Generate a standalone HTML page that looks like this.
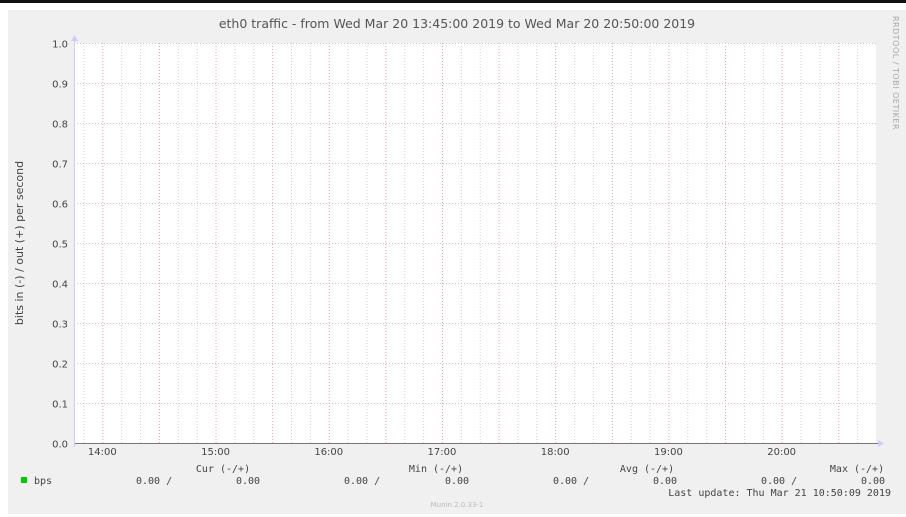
<!DOCTYPE html>
<html><head><meta charset="utf-8"><style>
body{margin:0;background:#fff;}
svg{display:block;font-family:"DejaVu Sans","Liberation Sans",sans-serif;}
.mono{font-family:"DejaVu Sans Mono","Liberation Mono",monospace;}
</style></head><body>
<svg id="chart" width="906" height="517" viewBox="0 0 906 517">
<rect x="0" y="0" width="906" height="3" fill="#111"/>
<rect x="8" y="10" width="898" height="504" fill="#f0f0f0"/>
<rect x="74" y="43" width="802" height="400" fill="#fff"/>
<text x="457" y="28" text-anchor="middle" font-size="12.5" fill="#555">eth0 traffic - from Wed Mar 20 13:45:00 2019 to Wed Mar 20 20:50:00 2019</text>
<text transform="translate(23,243) rotate(-90)" text-anchor="middle" font-size="11" fill="#444">bits in (-) / out (+) per second</text>
<text transform="translate(893,16) rotate(90)" font-size="8" fill="#aaa" letter-spacing="0.5">RRDTOOL / TOBI OETIKER</text>
<g id="grid"></g>
<g id="series"></g>
<g id="axes"></g>
<g class="mono" font-size="10" fill="#444">
<rect x="21" y="477" width="6" height="6" fill="#00cc00"/>
<text x="34" y="484">bps</text>
<text x="223" y="472" text-anchor="middle">Cur (-/+)</text>
<text x="436" y="472" text-anchor="middle">Min (-/+)</text>
<text x="647" y="472" text-anchor="middle">Avg (-/+)</text>
<text x="857" y="472" text-anchor="middle">Max (-/+)</text>
<text x="136" y="484">0.00 /</text>
<text x="236" y="484">0.00</text>
<text x="344" y="484">0.00 /</text>
<text x="445" y="484">0.00</text>
<text x="553" y="484">0.00 /</text>
<text x="653" y="484">0.00</text>
<text x="761" y="484">0.00 /</text>
<text x="861" y="484">0.00</text>
<text x="891" y="496" text-anchor="end">Last update: Thu Mar 21 10:50:09 2019</text>
</g>
<text x="457" y="507" text-anchor="middle" font-size="7" fill="#bbb">Munin 2.0.33-1</text>
</svg>
<script>
const yTicks=[0,0.1,0.2,0.3,0.4,0.5,0.6,0.7,0.8,0.9,1.0];
const yTickLabels=["0.0","0.1","0.2","0.3","0.4","0.5","0.6","0.7","0.8","0.9","1.0"];
const xTickMinutes=[840,900,960,1020,1080,1140,1200];
const xTickLabels=["14:00","15:00","16:00","17:00","18:00","19:00","20:00"];
const seriesTimes=[825,900,975,1050,1125,1200,1250];
const seriesBps=[0,0,0,0,0,0,0];

const X0=74,X1=876,Y0=443,Y1=43,T0=825,T1=1250,V0=0,V1=1;
const sx=t=>X0+(t-T0)/(T1-T0)*(X1-X0);
const sy=v=>Y0-(v-V0)/(V1-V0)*(Y0-Y1);
const NS="http://www.w3.org/2000/svg";
function mk(tag,attrs,parent){const e=document.createElementNS(NS,tag);for(const k in attrs)e.setAttribute(k,attrs[k]);parent.appendChild(e);return e;}
const grid=document.getElementById('grid'),axes=document.getElementById('axes'),ser=document.getElementById('series');

for(let m=830;m<T1;m+=10){
  const major=(m%30===0);
  const l=mk('line',{x1:sx(m)+.5,x2:sx(m)+.5,y1:Y1,y2:Y0,stroke:major?'#e8a0a0':'#d0d0d0','stroke-dasharray':'1,2'},grid);
  
  
}
yTicks.forEach((v,i)=>{
  const y=Math.round(sy(v))+.5;
  if(i>0){const l=mk('line',{x1:X0,x2:X1,y1:y,y2:y,stroke:'#c8c8c8','stroke-dasharray':'1,2'},grid);
  
  }
  const t=mk('text',{x:68,y:y+4,'text-anchor':'end','font-size':'10',fill:'#444'},axes);
  t.textContent=yTickLabels[i];
  
  
});
xTickMinutes.forEach((m,i)=>{
  const t=mk('text',{x:sx(m),y:455,'text-anchor':'middle','font-size':'10',fill:'#444'},axes);
  t.textContent=xTickLabels[i];
  
  
});
let d='';
seriesTimes.forEach((t,i)=>{d+=(i?'L':'M')+sx(t)+','+(sy(seriesBps[i])+.5);});
const p=mk('path',{d:d,fill:'none',stroke:'#00cc00','stroke-width':'1'},ser);


const xa=mk('line',{x1:X0,x2:X1+4,y1:Y0+.5,y2:Y0+.5,stroke:'#777'},axes);


const ya=mk('line',{x1:X0+.5,x2:X0+.5,y1:Y1-4,y2:Y0+4,stroke:'#ccccff'},axes);


const xar=mk('path',{d:`M${X1+2},${Y0-3}L${X1+8},${Y0+.5}L${X1+2},${Y0+4}Z`,fill:'#ccccff'},axes);


const yar=mk('path',{d:`M${X0-3},${Y1-2}L${X0+.5},${Y1-8}L${X0+4},${Y1-2}Z`,fill:'#ccccff'},axes);


</script>
</body></html>
